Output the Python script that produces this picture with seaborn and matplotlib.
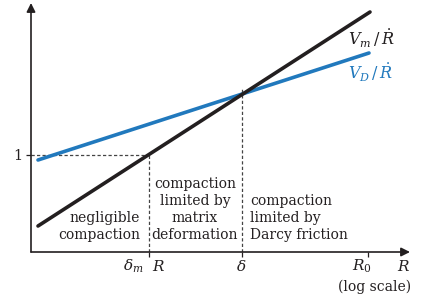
import matplotlib
matplotlib.use("Agg")
import matplotlib.pyplot as plt
import seaborn as sns
import numpy as np

# ---- data (abstract log-R units) ----
x_vm = [0.7, 33.9]          # V_m / Rdot line (black)
y_vm = [2.6, 24.0]
x_vd = [0.7, 33.8]          # V_D / Rdot line (blue)
y_vd = [9.2, 19.9]
x_delta_m = 11.8            # delta_m R
x_delta = 21.1              # delta
x_R0 = 33.7                 # R_0
y_one = 9.7                 # level "1"
y_cross = 16.4              # top of dashed line at delta
xlim = (0, 37.9)
ylim = (0, 24.9)

region_labels = ["negligible\ncompaction",
                 "compaction\nlimited by\nmatrix\ndeformation",
                 "compaction\nlimited by\nDarcy friction"]

sns.set_theme(style="white")
plt.rcParams["font.family"] = ["DejaVu Serif"]
plt.rcParams["mathtext.fontset"] = "dejavuserif"

TXT = "#231f20"
BLUE = "#2179bd"
DASH = "#444444"

fig = plt.figure(figsize=(4.25, 3.06), dpi=100)
ax = fig.add_axes([31/425, 54/306, 379/425, 249/306])
ax.set_xlim(*xlim)
ax.set_ylim(*ylim)
for s in ax.spines.values():
    s.set_visible(False)

# axes with arrows
ax.annotate("", xy=(0, 1), xytext=(0, 0), xycoords="axes fraction",
            arrowprops=dict(arrowstyle="-|>", lw=1.2, color=TXT,
                            mutation_scale=13, shrinkA=0, shrinkB=0),
            annotation_clip=False)
ax.annotate("", xy=(1, 0), xytext=(0, 0), xycoords="axes fraction",
            arrowprops=dict(arrowstyle="-|>", lw=1.2, color=TXT,
                            mutation_scale=13, shrinkA=0, shrinkB=0),
            annotation_clip=False)

# dashed guides
ls = (0, (2.6, 1.8))
ax.plot([0, x_delta_m], [y_one, y_one], color=DASH, lw=0.9, ls=ls)
ax.plot([x_delta_m, x_delta_m], [0, y_one], color=DASH, lw=0.9, ls=ls)
ax.plot([x_delta, x_delta], [0, y_cross], color=DASH, lw=0.9, ls=ls)

# lines
sns.lineplot(x=x_vd, y=y_vd, ax=ax, color=BLUE, linewidth=2.6)
sns.lineplot(x=x_vm, y=y_vm, ax=ax, color=TXT, linewidth=2.6)

# ticks
ax.set_xticks([x_delta_m, x_delta, x_R0])
ax.set_xticklabels([])
ax.set_yticks([y_one])
ax.set_yticklabels(["1"])
ax.tick_params(axis="both", which="both", direction="out", length=3.5,
               width=0.9, color=TXT, labelcolor=TXT, labelsize=10.5,
               bottom=True, left=True, pad=2.5)
ax.grid(False)

# x tick labels as text
yb = -1.9
ax.text(11.25, yb, r"$\delta_m$", ha="right", va="baseline", fontsize=11, color=TXT)
ax.text(12.1, yb, r"$R$", ha="left", va="baseline", fontsize=11, color=TXT)
ax.text(21.0, yb, r"$\delta$", ha="center", va="baseline", fontsize=11, color=TXT)
ax.text(33.1, yb, r"$R_0$", ha="center", va="baseline", fontsize=11, color=TXT)
ax.text(37.3, yb, r"$R$", ha="center", va="baseline", fontsize=11, color=TXT)
ax.text(34.4, -3.5, "(log scale)", ha="center", va="center", fontsize=10, color=TXT)

# line labels
ax.text(31.7, 21.3, r"$V_m\,/\,\dot{R}$", ha="left", va="center", fontsize=11.5, color=TXT)
ax.text(31.7, 17.9, r"$V_D\,/\,\dot{R}$", ha="left", va="center", fontsize=11.5, color=BLUE)

# region labels
yt = 1.0
ax.text(10.9, yt, region_labels[0], ha="right", va="bottom", fontsize=10,
        color=TXT, multialignment="right", linespacing=1.27)
ax.text(16.4, yt, region_labels[1], ha="center", va="bottom", fontsize=10,
        color=TXT, multialignment="center", linespacing=1.27)
ax.text(21.9, yt, region_labels[2], ha="left", va="bottom", fontsize=10,
        color=TXT, multialignment="left", linespacing=1.27)

fig.savefig("out.png", dpi=100)
